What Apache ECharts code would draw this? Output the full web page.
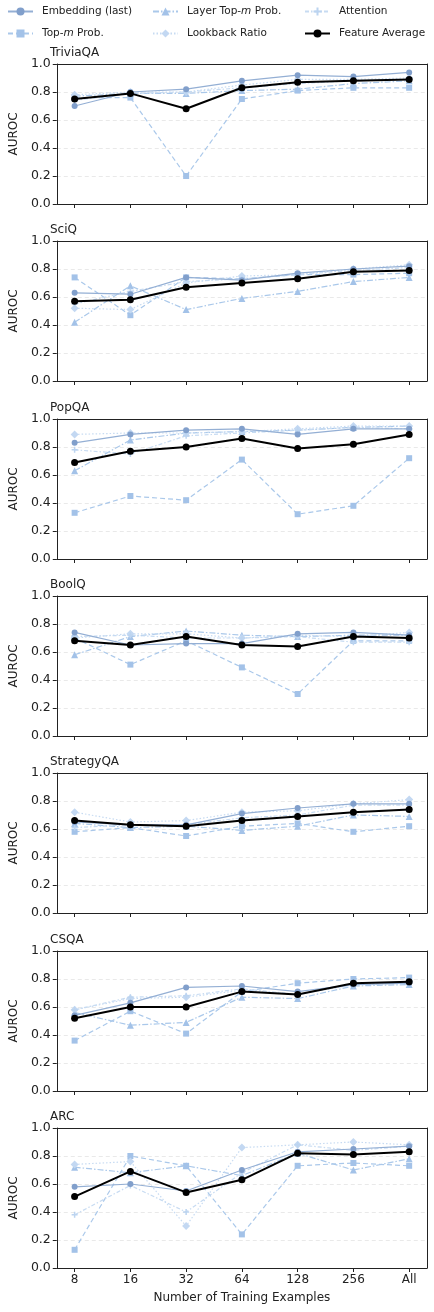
<!DOCTYPE html>
<html>
<head>
<meta charset="utf-8">
<script src="https://cdn.jsdelivr.net/npm/echarts@6/dist/echarts.min.js"></script>
<style>
html, body { margin: 0; padding: 0; background: #fff; }
#chart { width: 434px; height: 1312px; }
</style>
</head>
<body>
<div id="chart"></div>
<script>
// x categories (number of training examples)
var categories = ['8', '16', '32', '64', '128', '256', 'All'];
var datasets = ['TriviaQA', 'SciQ', 'PopQA', 'BoolQ', 'StrategyQA', 'CSQA', 'ARC'];

// one row per dataset, same order as datasets
var embedding = [
	[0.70, 0.80, 0.82, 0.88, 0.92, 0.91, 0.94],
	[0.63, 0.62, 0.74, 0.72, 0.77, 0.80, 0.82],
	[0.83, 0.89, 0.92, 0.93, 0.89, 0.93, 0.93],
	[0.74, 0.65, 0.66, 0.66, 0.73, 0.74, 0.72],
	[0.65, 0.63, 0.63, 0.71, 0.75, 0.78, 0.78],
	[0.54, 0.63, 0.74, 0.75, 0.71, 0.76, 0.77],
	[0.58, 0.60, 0.55, 0.70, 0.83, 0.85, 0.87]
];
var topM = [
	[0.76, 0.76, 0.20, 0.75, 0.81, 0.83, 0.83],
	[0.74, 0.47, 0.74, 0.73, 0.76, 0.76, 0.77],
	[0.33, 0.45, 0.42, 0.71, 0.32, 0.38, 0.72],
	[0.70, 0.51, 0.68, 0.49, 0.30, 0.68, 0.68],
	[0.58, 0.61, 0.55, 0.62, 0.64, 0.58, 0.62],
	[0.36, 0.57, 0.41, 0.71, 0.77, 0.80, 0.81],
	[0.13, 0.80, 0.73, 0.24, 0.73, 0.75, 0.73]
];
var layerTopM = [
	[0.77, 0.79, 0.79, 0.81, 0.82, 0.86, 0.88],
	[0.42, 0.68, 0.51, 0.59, 0.64, 0.71, 0.74],
	[0.63, 0.85, 0.90, 0.91, 0.92, 0.94, 0.95],
	[0.58, 0.71, 0.75, 0.72, 0.71, 0.72, 0.72],
	[0.64, 0.61, 0.62, 0.59, 0.62, 0.70, 0.69],
	[0.56, 0.47, 0.49, 0.67, 0.66, 0.75, 0.76],
	[0.72, 0.68, 0.73, 0.66, 0.82, 0.70, 0.78]
];
var lookback = [
	[0.78, 0.80, 0.80, 0.85, 0.89, 0.89, 0.90],
	[0.52, 0.51, 0.70, 0.75, 0.76, 0.80, 0.83],
	[0.89, 0.90, 0.90, 0.91, 0.93, 0.95, 0.95],
	[0.70, 0.73, 0.73, 0.70, 0.72, 0.71, 0.74],
	[0.72, 0.65, 0.66, 0.72, 0.73, 0.78, 0.81],
	[0.58, 0.66, 0.67, 0.72, 0.69, 0.76, 0.78],
	[0.74, 0.76, 0.30, 0.86, 0.88, 0.90, 0.88]
];
var attention = [
	[0.74, 0.79, 0.80, 0.83, 0.86, 0.88, 0.89],
	[0.55, 0.64, 0.71, 0.73, 0.76, 0.79, 0.81],
	[0.78, 0.75, 0.88, 0.90, 0.92, 0.94, 0.93],
	[0.71, 0.72, 0.70, 0.70, 0.71, 0.67, 0.67],
	[0.61, 0.63, 0.63, 0.68, 0.70, 0.77, 0.77],
	[0.58, 0.67, 0.68, 0.73, 0.69, 0.76, 0.77],
	[0.38, 0.59, 0.40, 0.68, 0.88, 0.84, 0.87]
];
var featureAvg = [
	[0.75, 0.79, 0.68, 0.83, 0.87, 0.88, 0.89],
	[0.57, 0.58, 0.67, 0.70, 0.73, 0.78, 0.79],
	[0.69, 0.77, 0.80, 0.86, 0.79, 0.82, 0.89],
	[0.68, 0.65, 0.71, 0.65, 0.64, 0.71, 0.70],
	[0.66, 0.63, 0.62, 0.66, 0.69, 0.72, 0.74],
	[0.52, 0.60, 0.60, 0.71, 0.69, 0.77, 0.78],
	[0.51, 0.69, 0.54, 0.63, 0.82, 0.81, 0.83]
];

var FONT = 'DejaVu Sans';
var INK = '#222';
var plusPath = 'path://M3,0 L5,0 L5,3 L8,3 L8,5 L5,5 L5,8 L3,8 L3,5 L0,5 L0,3 L3,3 Z';

// style per method
var methods = [
	{ name: 'Embedding (last)', data: embedding, color: '#94afd4', mcolor: '#819fcb', type: 'solid', symbol: 'circle', size: 6 },
	{ name: 'Top-m Prob.', data: topM, color: '#aac8ea', mcolor: '#a3c2e8', type: [5, 3], symbol: 'rect', size: 6 },
	{ name: 'Layer Top-m Prob.', data: layerTopM, color: '#aac8ea', mcolor: '#a3c2e8', type: [6, 2, 1.5, 2], symbol: 'triangle', size: 7 },
	{ name: 'Lookback Ratio', data: lookback, color: '#c7dbf2', mcolor: '#c3d8f2', type: [1.5, 2], symbol: 'diamond', size: 8 },
	{ name: 'Attention', data: attention, color: '#c7dbf2', mcolor: '#bcd4f0', type: [4, 2, 1.5, 2], symbol: plusPath, size: 6 },
	{ name: 'Feature Average', data: featureAvg, color: '#000000', mcolor: '#000000', type: 'solid', symbol: 'circle', size: 7 }
];

var panelTops = [64, 241, 419, 596, 773, 951, 1128];
var panelH = 140;
var ticksX = [0, 1, 2, 3, 4, 5, 6];

var grids = [], xAxes = [], yAxes = [], titles = [], series = [];

datasets.forEach(function (ds, i) {
	var last = i === datasets.length - 1;
	grids.push({ left: 50, right: 7, top: panelTops[i], height: panelH });
	titles.push({
		text: ds, left: 50, top: panelTops[i] - 17, padding: 0,
		textStyle: { fontFamily: FONT, fontSize: 12, fontWeight: 'normal', color: INK }
	});
	// bottom x axis
	xAxes.push({
		type: 'value', gridIndex: i, min: -0.32, max: 6.32, position: 'bottom',
		name: last ? 'Number of Training Examples' : '',
		nameLocation: 'middle', nameGap: 24,
		nameTextStyle: { fontFamily: FONT, fontSize: 12, color: INK },
		axisLine: { show: true, onZero: false, lineStyle: { color: INK } },
		axisTick: { show: true, length: 4, inside: false, customValues: ticksX, lineStyle: { color: INK } },
		axisLabel: {
			show: last, customValues: ticksX, margin: 6,
			fontFamily: FONT, fontSize: 12, color: INK,
			formatter: function (v) { return categories[Math.round(v)]; }
		},
		splitLine: { show: false }
	});
	// top edge of the box
	xAxes.push({
		type: 'value', gridIndex: i, min: -0.32, max: 6.32, position: 'top',
		axisLine: { show: true, onZero: false, lineStyle: { color: INK } },
		axisTick: { show: false }, axisLabel: { show: false }, splitLine: { show: false }
	});
	yAxes.push({
		type: 'value', gridIndex: i, min: 0, max: 1, interval: 0.2, position: 'left',
		name: 'AUROC', nameLocation: 'middle', nameGap: 36,
		nameTextStyle: { fontFamily: FONT, fontSize: 12, color: INK },
		axisLine: { show: true, onZero: false, lineStyle: { color: INK } },
		axisTick: { show: true, length: 4, lineStyle: { color: INK } },
		axisLabel: {
			margin: 6, fontFamily: FONT, fontSize: 12.5, color: INK,
			formatter: function (v) { return v.toFixed(1); }
		},
		splitLine: { show: true, showMinLine: false, showMaxLine: false, lineStyle: { color: '#e3e3e3', type: [4, 3], width: 0.8 } }
	});
	// right edge of the box
	yAxes.push({
		type: 'value', gridIndex: i, min: 0, max: 1, position: 'right',
		axisLine: { show: true, onZero: false, lineStyle: { color: INK } },
		axisTick: { show: false }, axisLabel: { show: false }, splitLine: { show: false }
	});
	methods.forEach(function (m, k) {
		var isAvg = k === methods.length - 1;
		series.push({
			name: m.name, type: 'line', xAxisIndex: 2 * i, yAxisIndex: 2 * i,
			data: m.data[i].map(function (v, j) { return [j, v]; }),
			symbol: m.symbol, symbolSize: m.size, showSymbol: true,
			z: isAvg ? 5 : (k === 0 ? 4 : 3),
			lineStyle: { color: m.color, width: isAvg ? 2 : 1.2, type: m.type },
			itemStyle: { color: m.mcolor, borderWidth: 0 },
			animation: false
		});
	});
});

// legend laid out as 3 columns x 2 rows like the original
var legendPos = [
	{ left: 7, top: 6 }, { left: 7, top: 28 },
	{ left: 152, top: 6 }, { left: 152, top: 28 },
	{ left: 304, top: 6 }, { left: 304, top: 28 }
];
var legends = methods.map(function (m, k) {
	return {
		data: [m.name], left: legendPos[k].left, top: legendPos[k].top,
		padding: 0, itemWidth: 25, itemHeight: 10, itemGap: 0,
		textStyle: {
			fontFamily: FONT, fontSize: 10.5, color: INK, padding: [0, 0, 0, 4],
			rich: {
				a: { fontFamily: FONT, fontSize: 10.5, color: INK },
				i: { fontFamily: FONT, fontSize: 10.5, color: INK, fontStyle: 'italic' }
			}
		},
		formatter: function (name) {
			if (name.indexOf('Top-m') >= 0) {
				var parts = name.split('Top-m');
				return '{a|' + parts[0] + 'Top-}{i|m}{a|' + parts[1] + '}';
			}
			return name;
		}
	};
});

var myChart = echarts.init(document.getElementById('chart'), null, { renderer: 'canvas' });
var option = {
	backgroundColor: '#fff',
	animation: false,
	title: titles,
	legend: legends,
	grid: grids,
	xAxis: xAxes,
	yAxis: yAxes,
	series: series
};
myChart.setOption(option);
</script>
</body>
</html>
